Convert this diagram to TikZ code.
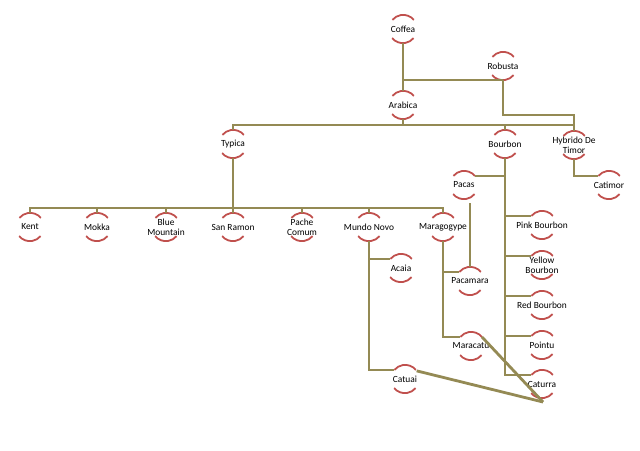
\documentclass[tikz,border=0pt]{standalone}
\usepackage{fontspec}
\setmainfont{Carlito}
\definecolor{twigline}{RGB}{148,138,84}
\definecolor{ringred}{RGB}{192,80,77}
\tikzset{
  twig/.style={circle,minimum size=28pt,inner sep=0pt},
  twiglabel/.style={align=center,inner sep=0pt,font=\fontsize{9.4}{10.2}\selectfont},
  ring/.style={draw=ringred,line width=1.8pt},
  branch/.style={draw=twigline,line width=1.6pt},
  trunk/.style={draw=twigline,line width=2.8pt}
}
\newcommand{\twig}[3]{\node[twig,label={[twiglabel]center:#3}] (#1) at (#2) {};}
\begin{document}
\begin{tikzpicture}[x=1pt,y=1pt]
    \useasboundingbox (0,0) rectangle (640,-450);
    % species
    \twig{Coffea}{403,-29}{Coffea}
    \twig{Robusta}{503,-66}{Robusta}
    \twig{Arabica}{403,-105}{Arabica}
    \twig{Typica}{233,-144}{Typica}
    \twig{Bourbon}{505,-144}{Bourbon}
    \twig{Hybrido}{574,-145}{Hybrido De\\Timor}
    \twig{Catimor}{609,-185}{Catimor}
    \twig{Pacas}{464,-185}{Pacas}
    % typica row
    \twig{Kent}{30,-227}{Kent}
    \twig{Mokka}{97,-227}{Mokka}
    \twig{BlueMountain}{166,-227}{Blue\\Mountain}
    \twig{SanRamon}{233,-227}{San Ramon}
    \twig{PacheComum}{302,-227}{Pache\\Comum}
    \twig{MundoNovo}{369,-227}{Mundo Novo}
    \twig{Maragogype}{443,-227}{Maragogype}
    \twig{Acaia}{401,-268}{Acaia}
    \twig{Pacamara}{470,-281}{Pacamara}
    \twig{Maracatu}{471,-346}{Maracatu}
    \twig{Catuai}{405,-379}{Catuai}
    % bourbon column
    \twig{PinkBourbon}{542,-225}{Pink Bourbon}
    \twig{YellowBourbon}{542,-265}{Yellow\\Bourbon}
    \twig{RedBourbon}{542,-305}{Red Bourbon}
    \twig{Pointu}{542,-345}{Pointu}
    \twig{Caturra}{542,-384}{Caturra}
    % half rings
    \foreach \n in {Coffea,Robusta,Arabica,Typica,Bourbon,Hybrido,Catimor,Pacas,
        Kent,Mokka,BlueMountain,SanRamon,PacheComum,MundoNovo,Maragogype,Acaia,
        Pacamara,Maracatu,Catuai,PinkBourbon,YellowBourbon,RedBourbon,Pointu,Caturra}{
      \draw[ring] (\n.40) arc[start angle=40,end angle=140,radius=14pt];
      \draw[ring] (\n.220) arc[start angle=220,end angle=320,radius=14pt];
    }
    % connectors
    \draw[trunk] (Coffea.south) -- (Arabica.north);
    \draw[branch] (Robusta.south) -| (Arabica.north);
    \draw[branch] (Robusta.south) -- ++(0,-35) -| (Hybrido.north);
    \draw[branch] (Arabica.south) -- ++(0,-6) coordinate (abus);
    \foreach \n in {Typica,Bourbon,Hybrido}
      \draw[branch] (abus) -| (\n.north);
    \draw[trunk] (Typica.south) -- ++(0,-50) coordinate (tbus);
    \foreach \n in {Kent,Mokka,BlueMountain,SanRamon,PacheComum,MundoNovo,Maragogype}
      \draw[branch] (tbus) -| (\n.north);
    \draw[trunk] (Bourbon.south) -- (Bourbon.south |- Caturra.140);
    \foreach \n in {PinkBourbon,YellowBourbon,RedBourbon,Pointu,Caturra}
      \draw[branch] (Bourbon.south) |- (\n.140);
    \draw[branch] (Bourbon.south) |- (Pacas.40);
    \draw[branch] ([yshift=-4pt]Pacas.south -| Pacamara.north) -- (Pacamara.north);
    \draw[branch] (Hybrido.south) |- (Catimor.140);
    \draw[branch] (MundoNovo.south) |- (Acaia.140);
    \draw[branch] (MundoNovo.south) |- (Catuai.140);
    \draw[branch] (Maragogype.south) |- (Pacamara.140);
    \draw[branch] (Maragogype.south) |- (Maracatu.140);
    \coordinate (meet) at (543,-402);
    \draw[trunk] (Catuai.35) -- (meet);
    \draw[trunk] (Maracatu.40) -- (meet);
\end{tikzpicture}
\end{document}
